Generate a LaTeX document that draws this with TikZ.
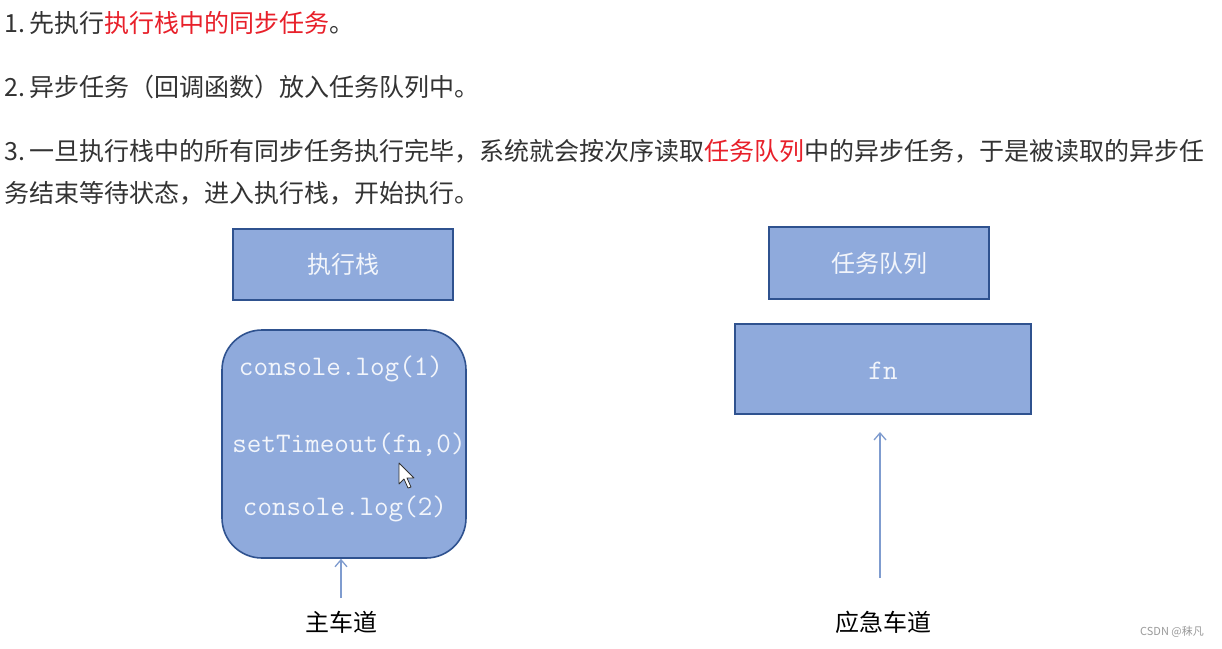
\documentclass[tikz,border=0pt]{standalone}
\usepackage{fontspec}
\setmainfont{Noto Sans CJK SC}
\newfontfamily\cjk{Noto Sans CJK SC}
\usetikzlibrary{arrows.meta}
\definecolor{boxfill}{HTML}{8FAADC}
\definecolor{boxline}{HTML}{2F528F}
\definecolor{boxtext}{HTML}{F2F5FB}
\definecolor{bodytext}{HTML}{333333}
\definecolor{hlred}{HTML}{E8202A}
\definecolor{arrowcol}{HTML}{7F9CCF}
\definecolor{wmark}{HTML}{9A9A9A}
\begin{document}
\begin{tikzpicture}[x=1pt,y=-1pt,
  bodyline/.style={anchor=base west,inner sep=0pt,text=bodytext,font=\cjk\fontsize{25}{29}\selectfont},
  titlebox/.style={draw=boxline,line width=1.6pt,fill=boxfill,text=boxtext,font=\cjk\fontsize{24}{28}\selectfont,inner sep=0pt},
  codetext/.style={text=boxtext,font=\ttfamily\fontsize{28.3}{31}\selectfont,inner sep=0pt},
  lane/.style={text=black,font=\cjk\fontsize{24}{28}\selectfont,inner sep=0pt},
  lanearrow/.style={draw=arrowcol,line width=1.3pt,-{Straight Barb[length=7pt,width=12pt,line width=1.3pt]}}]
\useasboundingbox (0,0) rectangle (1222,648);
\fill[white] (0,0) rectangle (1222,648);

% text lines
\node[bodyline] (l1) at (4,32) {1.\,先执行\textcolor{hlred}{执行栈中的同步任务}。};
\node[bodyline] (l2) at (4,96) {2.\,异步任务（回调函数）放入任务队列中。};
\node[bodyline] (l3) at (4,160) {3.\,一旦执行栈中的所有同步任务执行完毕，系统就会按次序读取\textcolor{hlred}{任务队列}中的异步任务，于是被读取的异步任};
\node[bodyline] (l4) at (4,202) {务结束等待状态，进入执行栈，开始执行。};

% left column
\node[titlebox,minimum width=220pt,minimum height=71pt] (stack) at (343,264.5) {执行栈};
\node[titlebox,draw=boxline,rounded corners=40pt,minimum width=244pt,minimum height=228pt] (stackbody) at (344,444) {};
\node[codetext] (c1) at (341,369) {console.log(1)};
\node[codetext] (c2) at (349,445) {setTimeout(fn,0)};
\node[codetext] (c3) at (345,509) {console.log(2)};
\node[lane] (main) at (341,622) {主车道};
\coordinate (mainstart) at (341,598);
\draw[lanearrow] (mainstart) -- (stackbody.south -| mainstart);

% cursor
\draw[fill=white,draw=black!80,line width=0.8pt,line join=round]
  (399,463) -- (399,484) -- (404,479) -- (408,488) -- (411,487) -- (407,478) -- (414,478) -- cycle;

% right column
\node[titlebox,minimum width=220pt,minimum height=72pt] (queue) at (879,263) {任务队列};
\node[titlebox,minimum width=296pt,minimum height=90pt] (fnbox) at (883,369) {};
\node[codetext] (fn) at (883,371) {fn};
\node[lane] (emerg) at (883,622) {应急车道};
\coordinate (emstart) at (880,578);
\coordinate (emend) at (880,432);
\draw[lanearrow] (emstart) -- (emend);

% watermark
\node[text=wmark,font=\cjk\fontsize{11}{13}\selectfont,inner sep=0pt] (wm) at (1172,632) {CSDN @秣凡};
\end{tikzpicture}
\end{document}
